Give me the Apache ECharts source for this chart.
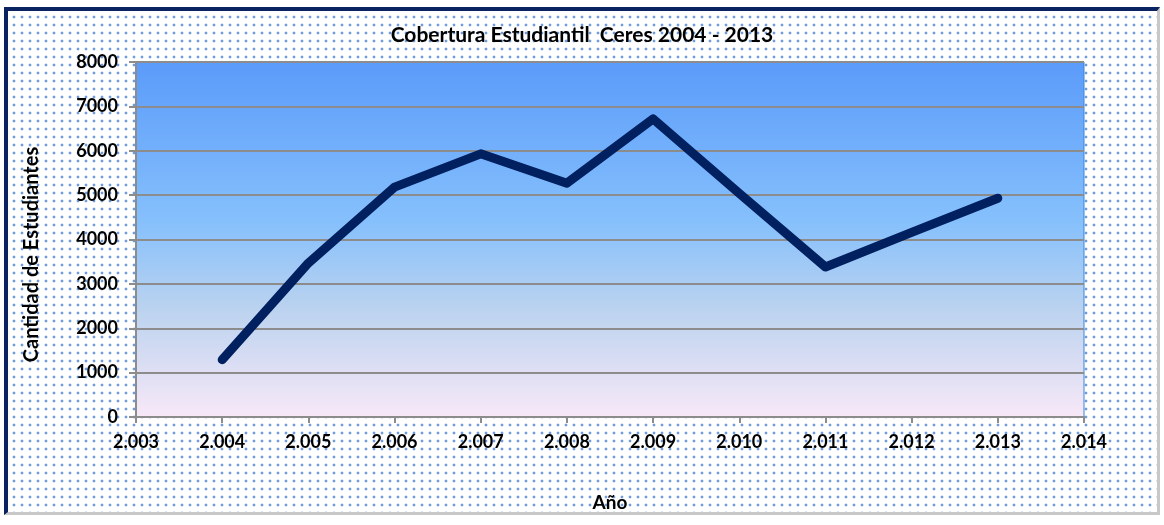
<!DOCTYPE html>
<html>
<head>
<meta charset="utf-8">
<script src="https://cdn.jsdelivr.net/npm/echarts@6/dist/echarts.min.js"></script>
<style>
html,body{margin:0;padding:0;background:#fff;}
#wrap{position:relative;width:1164px;height:525px;overflow:hidden;background:#fff;}
#frame{position:absolute;left:4px;top:7px;width:1156px;height:508px;box-sizing:border-box;
 border-left:4px solid #0a2360;border-top:4px solid #0a2360;
 border-right:3px solid #c8c8c8;border-bottom:3px solid #c8c8c8;
 background-color:#fff;
 background-image:radial-gradient(circle, #6f9ddc 0 1.2px, rgba(255,255,255,0) 1.7px);
 background-size:8px 8px;background-position:2px 2px;}
#chart{position:absolute;left:0;top:0;width:1164px;height:525px;}
</style>
</head>
<body>
<div id="wrap"><div id="frame"></div><div id="chart"></div></div>
<script>
const years = [2004, 2005, 2006, 2007, 2008, 2009, 2010, 2011, 2012, 2013];
const students = [1290, 3470, 5180, 5930, 5270, 6720, 5040, 3380, 4160, 4930];
const xTicksMin = 2003, xTicksMax = 2014;
const chartTitle = 'Cobertura Estudiantil  Ceres 2004 - 2013';
const yName = 'Cantidad de Estudiantes';
const xName = 'Año';

const font = 'Lato, "Open Sans", sans-serif';
const chart = echarts.init(document.getElementById('chart'), null, {renderer:'canvas'});
chart.setOption({
  backgroundColor: 'transparent',
  animation: false,
  title: {
    text: chartTitle, left: 'center', top: 20,
    textStyle: {fontFamily: font, fontWeight: 'bold', fontSize: 21, color: '#000'}
  },
  grid: {
    left: 136, right: 80, top: 62, bottom: 108, show: true,
    borderColor: '#3b86d6', borderWidth: 1,
    backgroundColor: {type:'linear', x:0, y:0, x2:0, y2:1, colorStops:[
      {offset:0, color:'#5b9bfa'},
      {offset:0.45, color:'#86c0fc'},
      {offset:0.7, color:'#bcd3ef'},
      {offset:1, color:'#f8e8f8'}
    ]}
  },
  xAxis: {
    type: 'value', min: xTicksMin, max: xTicksMax, interval: 1,
    name: xName, nameLocation: 'middle', nameGap: 76,
    nameTextStyle: {fontFamily: font, fontWeight: 'bold', fontSize: 19, color: '#000'},
    axisLine: {show: true, lineStyle: {color: '#8c8c8c', width: 2}},
    axisTick: {show: true, length: 6, lineStyle: {color: '#8c8c8c', width: 2}},
    splitLine: {show: false},
    axisLabel: {fontFamily: font, fontWeight: 'bold', fontSize: 18, color: '#000', margin: 16,
      formatter: v => (v/1000).toFixed(3)}
  },
  yAxis: {
    type: 'value', min: 0, max: 8000, interval: 1000,
    name: yName, nameLocation: 'middle', nameGap: 94, nameRotate: 90,
    nameTextStyle: {fontFamily: font, fontWeight: 'bold', fontSize: 20, color: '#000', padding: [0, 30, 0, 0]},
    axisLine: {show: true, lineStyle: {color: '#8c8c8c', width: 2}},
    axisTick: {show: true, length: 7, lineStyle: {color: '#8c8c8c', width: 2}},
    splitLine: {show: true, lineStyle: {color: '#8c8c8c', width: 2}},
    axisLabel: {fontFamily: font, fontWeight: 'bold', fontSize: 18, color: '#000', margin: 18,
      formatter: v => String(v)}
  },
  series: [{
    type: 'line',
    data: years.map((y, i) => [y, students[i]]),
    showSymbol: false, symbol: 'none',
    lineStyle: {color: '#002060', width: 9, cap: 'round', join: 'round'}
  }]
});
</script>
</body>
</html>
